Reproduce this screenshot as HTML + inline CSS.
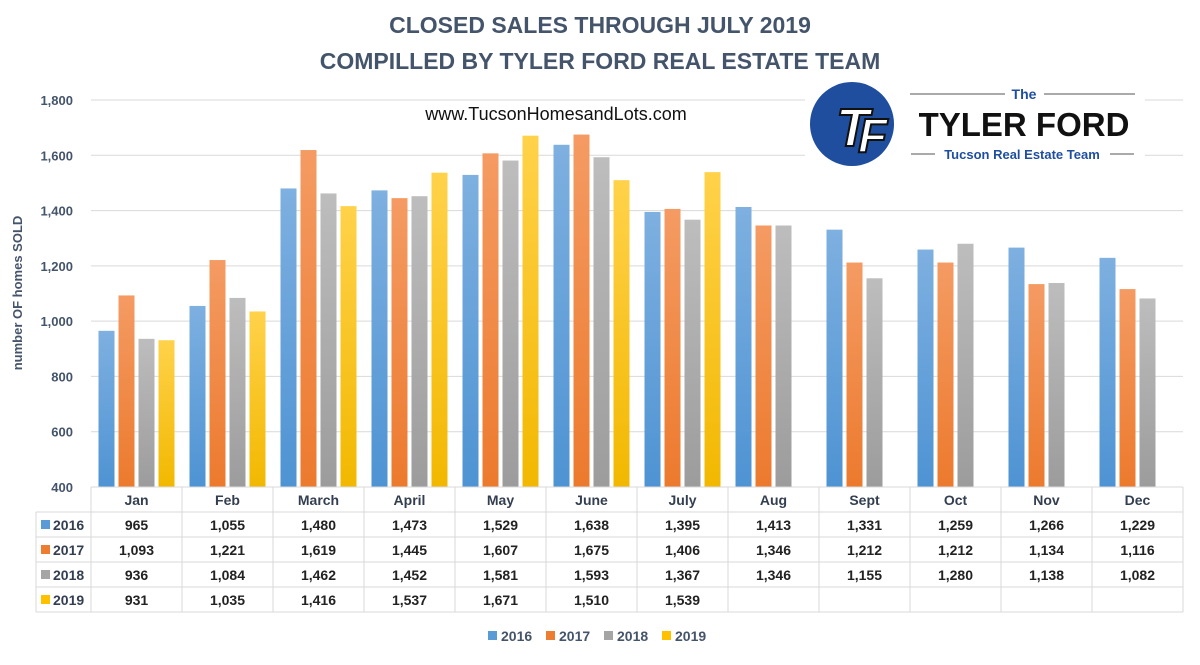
<!DOCTYPE html>
<html><head><meta charset="utf-8"><style>
body{margin:0;background:#fff;font-family:"Liberation Sans",sans-serif}
svg text{font-family:"Liberation Sans",sans-serif}
</style></head><body>
<svg id="c" width="1200" height="660" viewBox="0 0 1200 660" xmlns="http://www.w3.org/2000/svg">
<defs>
<linearGradient id="g0" x1="0" y1="0" x2="0" y2="1"><stop offset="0" stop-color="#7EB0E0"/><stop offset="1" stop-color="#4E93D3"/></linearGradient>
<linearGradient id="g1" x1="0" y1="0" x2="0" y2="1"><stop offset="0" stop-color="#F49B63"/><stop offset="1" stop-color="#EC7A2D"/></linearGradient>
<linearGradient id="g2" x1="0" y1="0" x2="0" y2="1"><stop offset="0" stop-color="#BDBDBD"/><stop offset="1" stop-color="#9C9C9C"/></linearGradient>
<linearGradient id="g3" x1="0" y1="0" x2="0" y2="1"><stop offset="0" stop-color="#FFD24A"/><stop offset="1" stop-color="#F2B800"/></linearGradient>
</defs>
<text x="600" y="33" text-anchor="middle" font-size="23" font-weight="bold" fill="#44546A">CLOSED SALES THROUGH JULY 2019</text>
<text x="600" y="69" text-anchor="middle" font-size="23" font-weight="bold" fill="#44546A">COMPILLED BY TYLER FORD REAL ESTATE TEAM</text>
<text x="22" y="293" transform="rotate(-90 22 293)" text-anchor="middle" font-size="13" font-weight="bold" fill="#44546A">number OF homes SOLD</text>
<g id="grid"></g>
<g id="bars"></g>
<g id="table"></g>
<text x="556" y="120" text-anchor="middle" font-size="18" fill="#111">www.TucsonHomesandLots.com</text>
<g>
<rect x="805" y="84" width="340" height="86" fill="#fff"/>
<circle cx="852" cy="124" r="42" fill="#1F4E9E"/>
<text x="836" y="146" font-size="54" font-weight="bold" fill="#fff" stroke="#111" stroke-width="2" font-style="italic">T</text>
<text x="858" y="152" font-size="48" font-weight="bold" fill="#fff" stroke="#111" stroke-width="2" font-style="italic">F</text>
<line x1="910" y1="94" x2="1005" y2="94" stroke="#555" stroke-width="1"/>
<line x1="1044" y1="94" x2="1135" y2="94" stroke="#555" stroke-width="1"/>
<text x="1024" y="99" text-anchor="middle" font-size="14" font-weight="bold" fill="#1F4E9E">The</text>
<text x="1024" y="136" text-anchor="middle" font-size="33" font-weight="bold" fill="#111">TYLER FORD</text>
<line x1="911" y1="154" x2="935" y2="154" stroke="#555"/>
<line x1="1110" y1="154" x2="1134" y2="154" stroke="#555"/>
<text x="1022" y="159" text-anchor="middle" font-size="13" font-weight="bold" fill="#1F4E9E">Tucson Real Estate Team</text>
</g>
<g id="legend"></g>
</svg>
<script>
const months=["Jan","Feb","March","April","May","June","July","Aug","Sept","Oct","Nov","Dec"];
const years=["2016","2017","2018","2019"];
const s2016=[965,1055,1480,1473,1529,1638,1395,1413,1331,1259,1266,1229];
const s2017=[1093,1221,1619,1445,1607,1675,1406,1346,1212,1212,1134,1116];
const s2018=[936,1084,1462,1452,1581,1593,1367,1346,1155,1280,1138,1082];
const s2019=[931,1035,1416,1537,1671,1510,1539,null,null,null,null,null];
const yTicks=[400,600,800,1000,1200,1400,1600,1800];
const series=[s2016,s2017,s2018,s2019];
const colors=["#5B9BD5","#ED7D31","#A5A5A5","#FFC000"];
const NS="http://www.w3.org/2000/svg";
const X0=91,CW=91,Y0=487,Y1=100,VMIN=400,VMAX=1800;
const y=v=>Y0-(v-VMIN)/(VMAX-VMIN)*(Y0-Y1);
const xc=i=>X0+i*CW;
function mk(tag,attrs,parent,txt){const e=document.createElementNS(NS,tag);for(const k in attrs)e.setAttribute(k,attrs[k]);if(txt!=null)e.textContent=txt;parent.appendChild(e);return e;}
const fmt=v=>v==null?"":v.toLocaleString("en-US");
const grid=document.getElementById('grid');
yTicks.forEach(t=>{
  if(t>VMIN){const l=mk('line',{x1:X0,x2:X0+12*CW,y1:y(t),y2:y(t),stroke:'#D9D9D9','stroke-width':1},grid);
  
  }
  const tx=mk('text',{x:73,y:y(t)+5,'text-anchor':'end','font-size':13,'font-weight':'bold',fill:'#44546A'},grid,fmt(t));
  
  
});
const bars=document.getElementById('bars');
series.forEach((s,k)=>{s.forEach((v,i)=>{if(v==null)return;
  const r=mk('rect',{x:xc(i)+7.5+k*20,y:y(v),width:16,height:Y0-y(v),fill:'url(#g'+k+')'},bars);
  
  
});});
const tb=document.getElementById('table');
const rows=[487,512,537,562,587,612];
const L=(x1,y1,x2,y2)=>mk('line',{x1,y1,x2,y2,stroke:'#D9D9D9','stroke-width':1},tb);
for(let i=0;i<=12;i++)L(xc(i),487,xc(i),612);
L(36,512,36,612);
rows.forEach((r,j)=>L(j==0?X0:36,r,X0+12*CW,r));
months.forEach((m,i)=>{const t=mk('text',{x:xc(i)+CW/2,y:505,'text-anchor':'middle','font-size':14,'font-weight':'bold',fill:'#333F50'},tb,m);
  
  });
series.forEach((s,k)=>{const ry=rows[k+1]+18;
  mk('rect',{x:41,y:ry-10,width:9,height:9,fill:colors[k]},tb);
  const yl=mk('text',{x:53,y:ry,'font-size':14,'font-weight':'bold',fill:'#333F50'},tb,years[k]);
  
  
  s.forEach((v,i)=>{const c=mk('text',{x:xc(i)+CW/2,y:ry,'text-anchor':'middle','font-size':14,'font-weight':'bold',fill:'#222'},tb,fmt(v));
    
    });
});
const lg=document.getElementById('legend');
years.forEach((yr,k)=>{const lx=488+k*58;
  const g=mk('g',{},lg);
  
  
  mk('rect',{x:lx,y:631,width:9,height:9,fill:colors[k]},g);
  mk('text',{x:lx+13,y:641,'font-size':14,'font-weight':'bold',fill:'#44546A'},g,yr);
});
</script>
</body></html>
